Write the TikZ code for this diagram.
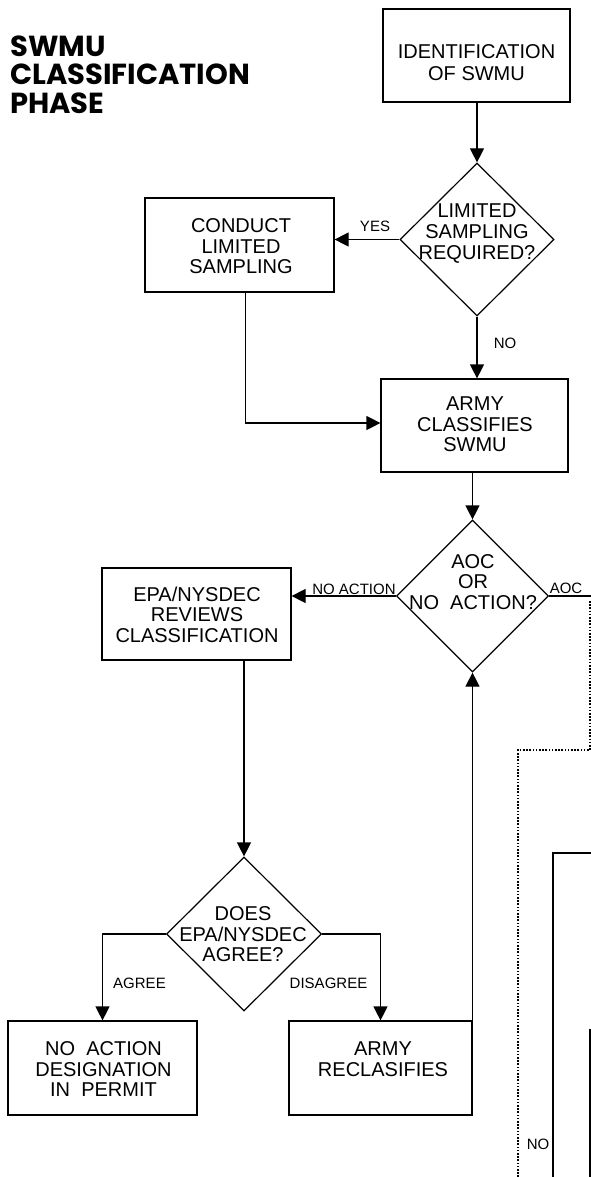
\documentclass[tikz,border=0pt]{standalone}
\usepackage{fontspec}
\setmainfont{Liberation Sans}
\newfontfamily\titlefont{Poppins}
\usetikzlibrary{shapes.geometric,arrows.meta}
\begin{document}
\begin{tikzpicture}[x=1pt,y=-1pt,
  box/.style={draw,rectangle,line width=1.2pt,inner sep=0pt},
  dia/.style={draw,diamond,line width=1.2pt,inner sep=0pt},
  txt/.style={align=center,inner sep=0pt,font=\fontsize{20pt}{20.5pt}\selectfont},
  lbl/.style={inner sep=0pt,font=\fontsize{15pt}{15pt}\selectfont},
  ln/.style={line width=1.2pt},
  arr/.style={line width=1.2pt,-{Triangle[length=14pt,width=14pt]}},
  dots/.style={line width=1.1pt,dash pattern=on 1.6pt off 1.6pt}]
\useasboundingbox (0,0) rectangle (591,1177);

% title
\node[anchor=west,inner sep=0pt,align=left,font=\titlefont\bfseries\fontsize{29pt}{28.5pt}\selectfont] (title) at (10,74.5) {SWMU\\CLASSIFICATION\\PHASE};

% boxes and decisions
\node[box,minimum width=187pt,minimum height=93pt] (id) at (476.5,55.5) {};
\node[txt,font=\fontsize{20pt}{21.5pt}\selectfont] (idT) at (476.5,62.75) {IDENTIFICATION\\OF SWMU};

\node[dia,minimum width=154pt,minimum height=153pt] (d1) at (477,239.5) {};
\node[txt,font=\fontsize{20pt}{21pt}\selectfont] (d1T) at (477,233.5) {LIMITED\\SAMPLING\\REQUIRED?};

\node[box,minimum width=189pt,minimum height=94pt] (cond) at (239.5,245) {};
\node[txt] (condT) at (241,246.5) {CONDUCT\\LIMITED\\SAMPLING};

\node[box,minimum width=187pt,minimum height=93pt] (arm) at (474.5,425.5) {};
\node[txt] (armT) at (475,424.5) {ARMY\\CLASSIFIES\\SWMU};

\node[dia,minimum width=152pt,minimum height=152pt] (d2) at (472.5,596) {};
\node[txt] (d2T) at (473,581.75) {AOC\\OR\\NO\ \ ACTION?};

\node[box,minimum width=189pt,minimum height=92pt] (epa) at (196.5,614) {};
\node[txt] (epaT) at (197,614.5) {EPA/NYSDEC\\REVIEWS\\CLASSIFICATION};

\node[dia,minimum width=155pt,minimum height=154pt] (d3) at (244,934) {};
\node[txt] (d3T) at (243,934.5) {DOES\\EPA/NYSDEC\\AGREE?};

\node[box,minimum width=189pt,minimum height=94pt] (noact) at (102.5,1068) {};
\node[txt] (noactT) at (103.5,1069.25) {NO\ \ ACTION\\DESIGNATION\\IN\ \ PERMIT};

\node[box,minimum width=183pt,minimum height=94pt] (recl) at (380.5,1068) {};
\node[txt] (reclT) at (383,1059.25) {ARMY\\RECLASIFIES};

% labels
\node[lbl] (yes) at (375,226) {YES};
\node[lbl] (no1) at (505,343.5) {NO};
\node[lbl] (noaction) at (354,589) {NO ACTION};
\node[lbl] (aoc) at (566,588.5) {AOC};
\node[lbl] (agree) at (139.5,983.5) {AGREE};
\node[lbl] (disagree) at (328.5,983.5) {DISAGREE};
\node[lbl] (no2) at (538,1144) {NO};

% connectors
\draw[arr] (d1.north |- id.south) -- (d1.north);
\draw[arr] (d1.west) -- (cond.east |- d1.west);
\draw[arr] (d1.south) -- (d1.south |- arm.north);
\draw[arr] ([xshift=6pt]cond.south) |- ([yshift=2.5pt]arm.west);
\draw[arr] (d2.north |- arm.south) -- (d2.north);
\draw[arr] (d2.west) -- (epa.east |- d2.west);
\coordinate (aocEnd) at (591,596);
\draw[ln] (d2.east) -- (aocEnd);
\draw[arr] (d3.north |- epa.south) -- (d3.north);
\draw[arr] (d3.west) -| (noact.north);
\draw[arr] (d3.east) -| (recl.north);
\draw[arr] (d2.south |- recl.north east) -- (d2.south);

% partial region at right edge
\draw[dots] (590,601) -- (590,750) -- (518,750) -- (518,1177);
\draw[ln] (591,853) -- (553,853) -- (553,1177);
\draw[ln] (591,1030) -- (590,1030) -- (590,1177);
\end{tikzpicture}
\end{document}
